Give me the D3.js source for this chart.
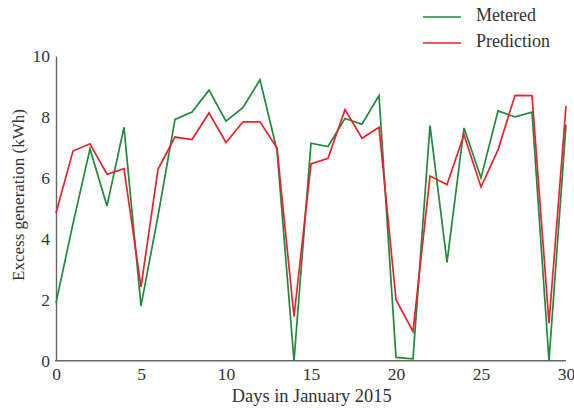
<!DOCTYPE html>
<html><head><meta charset="utf-8">
<script src="https://cdn.jsdelivr.net/npm/d3@7"></script>
<style>body{margin:0;background:#fff}svg{display:block}</style>
</head><body>
<script>
const days = d3.range(0, 31);
const metered = [1.9, 4.5, 6.95, 5.08, 7.66, 1.8, 4.75, 7.92, 8.16, 8.88, 7.86, 8.31, 9.22, 6.9, 0.0,
  7.14, 7.03, 7.95, 7.76, 8.7, 0.11, 0.06, 7.72, 3.23, 7.64, 6.0, 8.2, 8.0, 8.16, 0.0, 7.75];
const prediction = [4.85, 6.88, 7.12, 6.12, 6.3, 2.42, 6.28, 7.34, 7.26, 8.13, 7.16, 7.84, 7.84, 6.98, 1.45,
  6.46, 6.64, 8.24, 7.3, 7.66, 2.0, 0.96, 6.06, 5.78, 7.42, 5.7, 6.92, 8.71, 8.7, 1.23, 8.36];
const seriesNames = ["Metered", "Prediction"];
const xTicks = [0, 5, 10, 15, 20, 25, 30];
const yTicks = [0, 2, 4, 6, 8, 10];
const colors = ["#1f8a3b", "#e8232e"];

const W = 574, H = 408;
const svg = d3.select("body").append("svg").attr("width", W).attr("height", H);
const font = "'Liberation Serif','Times New Roman',serif";
const x = d3.scaleLinear().domain([0, 30]).range([56, 566]);
const y = d3.scaleLinear().domain([0, 10]).range([360.7, 56]);

const xAxis = svg.append("g").attr("transform", `translate(0,${y(0)})`)
  .call(d3.axisBottom(x).tickValues(xTicks).tickSize(0).tickPadding(7));
const yAxis = svg.append("g").attr("transform", `translate(${x(0)},0)`)
  .call(d3.axisLeft(y).tickValues(yTicks).tickSize(0).tickPadding(6));
[xAxis, yAxis].forEach(g => {
  g.select(".domain").attr("stroke", "#666").attr("stroke-width", 1.4);
  g.selectAll("text").attr("font-family", font).attr("font-size", 17.5).attr("fill", "#333");
});
xAxis.select(".domain").attr("d", `M${x(0)-1},0H${x(30)}`);

svg.append("text").attr("x", 311.7).attr("y", 397.5).attr("text-anchor", "middle")
  .attr("dominant-baseline", "middle")
  .attr("font-family", font).attr("font-size", 18.4).attr("fill", "#333")
  .text("Days in January 2015");
svg.append("text").attr("transform", "translate(20,195) rotate(-90)").attr("text-anchor", "middle")
  .attr("dominant-baseline", "middle")
  .attr("font-family", font).attr("font-size", 17).attr("fill", "#333")
  .text("Excess generation (kWh)");

const line = d3.line().x((d, i) => x(days[i])).y(d => y(d));
[metered, prediction].forEach((s, k) => {
  svg.append("path").datum(s).attr("d", line).attr("fill", "none")
    .attr("stroke", colors[k]).attr("stroke-width", 1.7).attr("stroke-linejoin", "miter");
});

const leg = svg.append("g");
seriesNames.forEach((n, k) => {
  const yy = 17 + k * 26;
  leg.append("line").attr("x1", 423).attr("x2", 461).attr("y1", yy).attr("y2", yy)
    .attr("stroke", colors[k]).attr("stroke-width", 1.7);
  leg.append("text").attr("x", 476).attr("y", yy).attr("dominant-baseline", "middle")
    .attr("font-family", font).attr("font-size", 18).attr("fill", "#333").text(n);
});
</script>
</body></html>
